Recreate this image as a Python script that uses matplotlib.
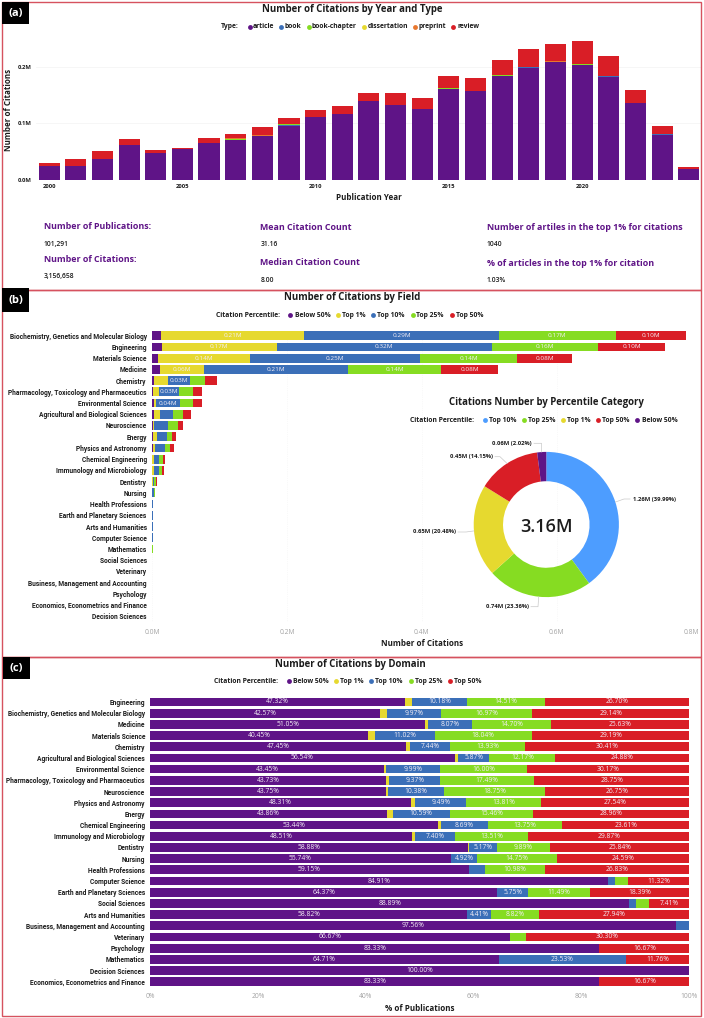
"""Three-panel citation dashboard: citations by year/type, by field, and by domain."""
import numpy as np
import matplotlib
matplotlib.use("Agg")
import matplotlib.pyplot as plt
from matplotlib.patches import Rectangle

W, H = 704, 1018
plt.rcParams["font.family"] = ["Open Sans", "DejaVu Sans"]

PURPLE, YELLOW, BLUE, GREEN, RED = "#5f1487", "#e6d92f", "#3b6fb8", "#86dc22", "#d91e26"
ORANGE = "#e8772e"
DONUT_BLUE = "#4d9dff"
FRAME = "#d6525f"
INK = "#1c1c1c"
TICK_GREY = "#a3a3a3"

# panel (a): citations in millions per publication year
YEARS = list(range(2000, 2025))
ARTICLE = [.0254, .0254, .0367, .062, .0485, .054, .066, .071, .078, .0947, .1107, .116, .139,
           .132, .126, .1615, .157, .1834, .199, .208, .203, .183, .1355, .0805, .020]
BOOK = [0, 0, 0, 0, 0, 0, 0, .0005, .0003, .003, .0003, .0003, .0003, 0, 0, .0003, .0003, .0015,
        .0003, .001, .001, .001, .0002, .0002, 0]
CHAPTER = [0, 0, 0, 0, 0, 0, .0003, .0015, .0004, .001, .0004, .0004, .0004, .0003, .0003, .0003,
           .0003, .0002, .0004, .0005, .0005, .0004, .0002, .0002, 0]
DISSERTATION = [0, 0, 0, 0, 0, 0, 0, .0002, 0, 0, 0, 0, 0, 0, 0, 0, 0, 0, 0, 0, 0, 0, 0, 0, 0]
PREPRINT = [0, 0, 0, 0, 0, 0, 0, .0008, .0003, 0, .0003, .0003, .0003, .0002, .0002, .0004, .0004,
            .0003, .0008, .0005, .0015, .0005, .0001, .0001, 0]
REVIEW = [.0054, .0113, .0153, .010, .0042, .002, .0082, .0077, .014, .0108, .012, .0144, .0144,
          .0215, .019, .0215, .023, .027, .0305, .0314, .040, .0345, .024, .0137, .003]
TYPE_SERIES = [(ARTICLE, PURPLE), (BOOK, BLUE), (CHAPTER, GREEN), (DISSERTATION, YELLOW),
               (PREPRINT, ORANGE), (REVIEW, RED)]

# panel (b): citations in millions by field and percentile
FIELDS = ["Biochemistry, Genetics and Molecular Biology", "Engineering", "Materials Science", "Medicine",
          "Chemistry", "Pharmacology, Toxicology and Pharmaceutics", "Environmental Science",
          "Agricultural and Biological Sciences", "Neuroscience", "Energy", "Physics and Astronomy",
          "Chemical Engineering", "Immunology and Microbiology", "Dentistry", "Nursing", "Health Professions",
          "Earth and Planetary Sciences", "Arts and Humanities", "Computer Science", "Mathematics",
          "Social Sciences", "Veterinary", "Business, Management and Accounting", "Psychology",
          "Economics, Econometrics and Finance", "Decision Sciences"]
FIELD_BELOW = [.0133, .0148, .0094, .0125, .003, .002, .003, .003, .001, .001, .001, .0005, .0005, .0003,
               .0002, .0003, .0003, .0003, .0003, .0002, .0001, .0001, .0001, .0001, .0001, 0]
FIELD_TOP1 = [.212, .17, .136, .064, .02, .0085, .0035, .009, .0023, .0064, .004, .0025, .0025, .0007,
              .0003, .0002, 0, 0, 0, 0, 0, 0, 0, 0, 0, 0]
FIELD_TOP10 = [.289, .319, .252, .2135, .033, .03, .0355, .0188, .0208, .0148, .0148, .008, .007, .0025,
               .002, .0006, .0009, .0005, .0005, .0004, .0003, .0002, .0002, .0001, 0, 0]
FIELD_TOP25 = [.173, .158, .144, .139, .023, .021, .0188, .0158, .0143, .0074, .0074, .0054, .005, .002,
               .0015, .0006, .0005, .0005, .0005, .0002, .0002, .0002, .0001, .0001, .0001, 0]
FIELD_TOP50 = [.104, .099, .081, .084, .017, .0123, .0133, .0109, .0074, .0054, .005, .003, .003, .0015,
               .001, .0005, .0003, .0005, .0005, .0002, .0001, .0001, .0001, .0001, 0, .0001]

# donut: clockwise from twelve o'clock
DONUT_MILLIONS = [1.26, 0.74, 0.65, 0.45, 0.06]
DONUT_PERCENT = [39.99, 23.36, 20.48, 14.15, 2.02]
DONUT_COLORS = [DONUT_BLUE, GREEN, YELLOW, RED, PURPLE]

# panel (c): % of publications by domain and percentile
DOMAINS = ["Engineering", "Biochemistry, Genetics and Molecular Biology", "Medicine", "Materials Science",
           "Chemistry", "Agricultural and Biological Sciences", "Environmental Science",
           "Pharmacology, Toxicology and Pharmaceutics", "Neuroscience", "Physics and Astronomy", "Energy",
           "Chemical Engineering", "Immunology and Microbiology", "Dentistry", "Nursing", "Health Professions",
           "Computer Science", "Earth and Planetary Sciences", "Social Sciences", "Arts and Humanities",
           "Business, Management and Accounting", "Veterinary", "Psychology", "Mathematics",
           "Decision Sciences", "Economics, Econometrics and Finance"]
DOM_BELOW = [47.32, 42.57, 51.05, 40.45, 47.45, 56.54, 43.45, 43.73, 43.75, 48.31, 43.86, 53.44, 48.51,
             58.88, 55.74, 59.15, 84.91, 64.37, 88.89, 58.82, 97.56, 66.67, 83.33, 64.71, 100.00, 83.33]
DOM_TOP1 = [1.29, 1.35, .55, 1.30, .77, .54, .39, .66, .37, .85, 1.13, .51, .71, .22, 0, 0, 0, 0, 0, 0, 0, 0,
            0, 0, 0, 0]
DOM_TOP10 = [10.18, 9.97, 8.07, 11.02, 7.44, 5.87, 9.99, 9.37, 10.38, 9.49, 10.59, 8.69, 7.40, 5.17, 4.92,
             3.04, 1.26, 5.75, 1.23, 4.41, 2.44, 0, 0, 23.53, 0, 0]
DOM_TOP25 = [14.51, 16.97, 14.70, 18.04, 13.93, 12.17, 16.00, 17.49, 18.75, 13.81, 15.46, 13.75, 13.51, 9.89,
             14.75, 10.98, 2.51, 11.49, 2.47, 8.82, 0, 3.03, 0, 0, 0, 0]
DOM_TOP50 = [26.70, 29.14, 25.63, 29.19, 30.41, 24.88, 30.17, 28.75, 26.75, 27.54, 28.96, 23.61, 29.87, 25.84,
             24.59, 26.83, 11.32, 18.39, 7.41, 27.94, 0, 30.30, 16.67, 11.76, 0, 16.67]

PERCENTILE_COLORS = [PURPLE, YELLOW, BLUE, GREEN, RED]


def px_axes(fig, left, top, right, bottom, **kw):
    return fig.add_axes([left / W, 1 - bottom / H, (right - left) / W, (bottom - top) / H], **kw)


def clean(ax):
    ax.set_facecolor("none")
    for s in ax.spines.values():
        s.set_visible(False)
    ax.tick_params(length=0)


def stacked(ax, rows, series, threshold, fmt, label_size):
    """Horizontal stacked bars with white labels on the segments wide enough to hold one."""
    y = np.arange(len(rows))
    left = np.zeros(len(rows))
    for vals, color in series:
        vals = np.array(vals, float)
        ax.barh(y, vals, left=left, height=0.78, color=color, edgecolor="none", zorder=2)
        for i, v in enumerate(vals):
            if v >= threshold:
                ax.text(left[i] + v / 2, i, fmt(v), ha="center", va="center", color="#f4eef6",
                        fontsize=label_size, zorder=3)
        left += vals
    ax.set_yticks(y)
    ax.set_yticklabels(rows, fontsize=4.8, fontweight="bold", color=INK, family=["Roboto", "DejaVu Sans"])
    ax.set_ylim(len(rows) - 0.5, -0.5)


def legend_row(ov, y, title, title_x, entries):
    ov.text(title_x, y, title, fontsize=4.9, fontweight="bold", color=INK, va="center")
    for name, color, dot_x, text_x in entries:
        ov.plot([dot_x], [y], "o", ms=3.5, color=color, mec="none")
        ov.text(text_x, y, name, fontsize=4.9, fontweight="bold", color=INK, va="center")


def panel_a(fig):
    ax = px_axes(fig, 36, 38, 701, 180)
    clean(ax)
    bottom = np.zeros(len(YEARS))
    for vals, color in TYPE_SERIES:
        ax.bar(YEARS, vals, bottom=bottom, width=0.79, color=color, edgecolor="none", zorder=2)
        bottom += np.array(vals)
    ax.set_xlim(1999.508, 2024.46)
    ax.set_ylim(0, 0.2513)
    ax.set_xticks([2000, 2005, 2010, 2015, 2020])
    ax.set_yticks([0, 0.1, 0.2])
    ax.set_yticklabels(["0.0M", "0.1M", "0.2M"])
    ax.grid(axis="y", color="#f3f3f3", lw=0.5, zorder=0)
    ax.tick_params(labelsize=4.2, labelcolor=INK, pad=3)
    for lbl in ax.get_xticklabels() + ax.get_yticklabels():
        lbl.set_fontweight("bold")


def panel_b(fig):
    ax = px_axes(fig, 152, 330.1, 691.7, 621.9)
    clean(ax)
    series = list(zip([FIELD_BELOW, FIELD_TOP1, FIELD_TOP10, FIELD_TOP25, FIELD_TOP50], PERCENTILE_COLORS))
    stacked(ax, FIELDS, series, 0.025, lambda v: f"{v:.2f}M", 4.6)
    ax.set_xlim(0, 0.8)
    ax.set_xticks([0, 0.2, 0.4, 0.6, 0.8])
    ax.set_xticklabels(["0.0M", "0.2M", "0.4M", "0.6M", "0.8M"], fontsize=4.9, color=TICK_GREY)
    ax.tick_params(axis="x", pad=5)
    ax.tick_params(axis="y", pad=3.8)
    ax.grid(axis="x", color="#f3f3f3", lw=0.5, ls=":", zorder=0)


def panel_c(fig):
    ax = px_axes(fig, 150, 696.4, 689.3, 987.3)
    clean(ax)
    series = list(zip([DOM_BELOW, DOM_TOP1, DOM_TOP10, DOM_TOP25, DOM_TOP50], PERCENTILE_COLORS))
    stacked(ax, DOMAINS, series, 4.0, lambda v: f"{v:.2f}%", 4.9)
    ax.set_xlim(0, 100)
    ax.set_xticks(range(0, 101, 20))
    ax.set_xticklabels([f"{v}%" for v in range(0, 101, 20)], fontsize=4.9, color=TICK_GREY)
    ax.tick_params(axis="x", pad=4)
    ax.tick_params(axis="y", pad=3.6)


def panel_donut(fig, ov):
    cx, cy, r = 546.3, 524.5, 72.6
    ax = px_axes(fig, cx - r, cy - r, cx + r, cy + r)
    ax.pie(DONUT_PERCENT, colors=DONUT_COLORS, startangle=90, counterclock=False, radius=1,
           wedgeprops={"width": 0.404, "edgecolor": "none"})
    ax.set_xlim(-1, 1)
    ax.set_ylim(-1, 1)
    ax.set_zorder(5)
    ov.text(cx, cy + 2.5, f"{sum(DONUT_MILLIONS):.2f}M", fontsize=13, fontweight="semibold", color=INK,
            ha="center", va="center")

    # label anchor, leader elbow and leader end in page pixels
    layouts = [((632.7, 499.7, "left"), (624, 499), (630, 499)),
               ((486, 606.7, "left"), (538, 606.7), (531, 606.7)),
               ((455.7, 532, "right"), (466, 532), (458, 532)),
               ((493, 456.7, "right"), (500, 456.7), (495, 456.7)),
               ((532, 443.3, "right"), (541.5, 443.3), (534, 443.3))]
    done = 0.0
    for m, p, color, (anchor, elbow, end) in zip(DONUT_MILLIONS, DONUT_PERCENT, DONUT_COLORS, layouts):
        mid = np.deg2rad((done + p / 2) * 3.6)
        done += p
        sx, sy = cx + r * np.sin(mid), cy - r * np.cos(mid)
        ov.plot([sx, elbow[0], end[0]], [sy, elbow[1], end[1]], color="#c9c9c9", lw=0.5)
        ov.text(anchor[0], anchor[1], f"{m:.2f}M ({p:.2f}%)", fontsize=4.2, fontweight="bold", color=INK,
                ha=anchor[2], va="center")


def main():
    fig = plt.figure(figsize=(W / 100, H / 100), dpi=100, facecolor="white")
    panel_a(fig)
    panel_b(fig)
    panel_c(fig)

    ov = fig.add_axes([0, 0, 1, 1], zorder=10)
    ov.set_xlim(0, W)
    ov.set_ylim(H, 0)
    ov.axis("off")

    for top, bottom in [(2.3, 290), (290, 656.7), (656.7, 1015.7)]:
        ov.add_patch(Rectangle((2.3, top), 698.7, bottom - top, fill=False, ec=FRAME, lw=1.0))
    for label, x0, y0, x1, y1 in [("(a)", 2, 2, 29, 24), ("(b)", 2, 288, 29, 312), ("(c)", 3, 657, 30, 679)]:
        ov.add_patch(Rectangle((x0, y0), x1 - x0, y1 - y0, color="black", lw=0))
        ov.text((x0 + x1) / 2, (y0 + y1) / 2, label, color="white", fontsize=8, fontweight="bold",
                ha="center", va="center")

    for text, x, y in [("Number of Citations by Year and Type", 352, 9.5),
                       ("Number of Citations by Field", 351.7, 297.7),
                       ("Citations Number by Percentile Category", 546, 403),
                       ("Number of Citations by Domain", 350, 664)]:
        ov.text(x, y, text, fontsize=6.9, fontweight="bold", color=INK, ha="center", va="center")

    legend_row(ov, 26.5, "Type:", 221, [("article", PURPLE, 249.7, 253), ("book", BLUE, 281, 284.7),
                                        ("book-chapter", GREEN, 308.5, 312), ("dissertation", YELLOW, 364, 368),
                                        ("preprint", ORANGE, 414.5, 418.5), ("review", RED, 453, 457)])
    legend_row(ov, 315.3, "Citation Percentile:", 216,
               [("Below 50%", PURPLE, 290.3, 294.7), ("Top 1%", YELLOW, 338, 342.5), ("Top 10%", BLUE, 373.3, 377),
                ("Top 25%", GREEN, 412.7, 416.3), ("Top 50%", RED, 451.7, 455.7)])
    legend_row(ov, 420.3, "Citation Percentile:", 410.3,
               [("Top 10%", DONUT_BLUE, 484.7, 488.7), ("Top 25%", GREEN, 524.3, 528), ("Top 1%", YELLOW, 562.7, 567),
                ("Top 50%", RED, 598.3, 602), ("Below 50%", PURPLE, 637.3, 641.7)])
    legend_row(ov, 681.3, "Citation Percentile:", 214.3,
               [("Below 50%", PURPLE, 289, 292.7), ("Top 1%", YELLOW, 336.3, 340.3), ("Top 10%", BLUE, 371.3, 375.3),
                ("Top 25%", GREEN, 411.3, 415), ("Top 50%", RED, 450.3, 454.3)])

    ov.text(8.5, 110, "Number of Citations", rotation=90, fontsize=5.8, fontweight="bold", color=INK,
            ha="center", va="center")
    for text, x, y in [("Publication Year", 368.6, 197.7), ("Number of Citations", 421.7, 643),
                       ("% of Publications", 419.7, 1008.3)]:
        ov.text(x, y, text, fontsize=5.8, fontweight="bold", color=INK, ha="center", va="center")

    for head, x, y in [("Number of Publications:", 43.5, 226.7), ("Number of Citations:", 43.5, 259),
                       ("Mean Citation Count", 260.4, 227), ("Median Citation Count", 260.4, 262.3),
                       ("Number of artiles in the top 1% for citations", 486.8, 227),
                       ("% of articles in the top 1% for citation", 486.8, 263)]:
        ov.text(x, y, head, fontsize=6.4, fontweight="bold", color=PURPLE, va="center")
    for val, x, y in [("101,291", 43.5, 244.3), ("3,156,658", 43.5, 276.7), ("31.16", 260.4, 244.3),
                      ("8.00", 260.4, 280), ("1040", 486.8, 244.3), ("1.03%", 486.8, 280.7)]:
        ov.text(x, y, val, fontsize=4.9, fontweight="semibold", color=INK, va="center")

    panel_donut(fig, ov)
    fig.savefig("out.png", dpi=100)


if __name__ == "__main__":
    main()
